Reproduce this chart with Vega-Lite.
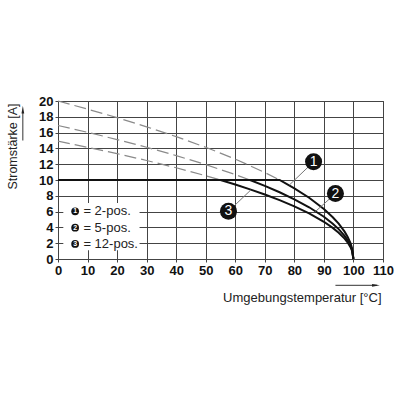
{
  "$schema": "https://vega.github.io/schema/vega-lite/v6.json",
  "autosize": {"type": "none"},
  "padding": {"left": 58, "top": 101, "right": 17, "bottom": 141},
  "width": 325,
  "height": 158,
  "background": "white",
  "config": {
    "view": {"stroke": "#333", "strokeWidth": 1},
    "font": "Liberation Sans",
    "axis": {
      "grid": true, "gridColor": "#444", "gridWidth": 1, "gridOpacity": 1,
      "domain": false, "ticks": true, "tickSize": 3, "tickColor": "#444",
      "labelOverlap": false, "labelFlush": false, "labelBound": false,
      "labelFont": "Liberation Sans", "labelFontSize": 13, "labelFontWeight": "bold", "labelColor": "#111",
      "titleFont": "Liberation Sans", "titleFontWeight": "normal", "titleColor": "#222"
    }
  },
  "datasets": {
    "curves": [
      {"s": "1", "part": "dash", "T": 0, "I": 20}, {"s": "1", "part": "dash", "T": 10, "I": 18.97}, {"s": "1", "part": "dash", "T": 20, "I": 17.89}, {"s": "1", "part": "dash", "T": 30, "I": 16.73}, {"s": "1", "part": "dash", "T": 40, "I": 15.49}, {"s": "1", "part": "dash", "T": 50, "I": 14.14}, {"s": "1", "part": "dash", "T": 60, "I": 12.65}, {"s": "1", "part": "dash", "T": 70, "I": 10.95}, {"s": "1", "part": "dash", "T": 75, "I": 10},
      {"s": "2", "part": "dash", "T": 0, "I": 16.9}, {"s": "2", "part": "dash", "T": 10, "I": 16.04}, {"s": "2", "part": "dash", "T": 20, "I": 15.12}, {"s": "2", "part": "dash", "T": 30, "I": 14.14}, {"s": "2", "part": "dash", "T": 40, "I": 13.09}, {"s": "2", "part": "dash", "T": 50, "I": 11.95}, {"s": "2", "part": "dash", "T": 60, "I": 10.69}, {"s": "2", "part": "dash", "T": 65, "I": 10},
      {"s": "3", "part": "dash", "T": 0, "I": 14.91}, {"s": "3", "part": "dash", "T": 10, "I": 14.14}, {"s": "3", "part": "dash", "T": 20, "I": 13.33}, {"s": "3", "part": "dash", "T": 30, "I": 12.47}, {"s": "3", "part": "dash", "T": 40, "I": 11.55}, {"s": "3", "part": "dash", "T": 50, "I": 10.54}, {"s": "3", "part": "dash", "T": 55, "I": 10},
      {"s": "1", "part": "solid", "T": 0, "I": 10}, {"s": "1", "part": "solid", "T": 75, "I": 10}, {"s": "1", "part": "solid", "T": 80, "I": 8.94}, {"s": "1", "part": "solid", "T": 85, "I": 7.75}, {"s": "1", "part": "solid", "T": 90, "I": 6.32}, {"s": "1", "part": "solid", "T": 93, "I": 5.29}, {"s": "1", "part": "solid", "T": 95, "I": 4.47}, {"s": "1", "part": "solid", "T": 97, "I": 3.46}, {"s": "1", "part": "solid", "T": 98, "I": 2.83}, {"s": "1", "part": "solid", "T": 99, "I": 2.0}, {"s": "1", "part": "solid", "T": 99.5, "I": 1.41}, {"s": "1", "part": "solid", "T": 100, "I": 0},
      {"s": "2", "part": "solid", "T": 0, "I": 10}, {"s": "2", "part": "solid", "T": 65, "I": 10}, {"s": "2", "part": "solid", "T": 70, "I": 9.26}, {"s": "2", "part": "solid", "T": 75, "I": 8.45}, {"s": "2", "part": "solid", "T": 80, "I": 7.56}, {"s": "2", "part": "solid", "T": 85, "I": 6.55}, {"s": "2", "part": "solid", "T": 90, "I": 5.35}, {"s": "2", "part": "solid", "T": 93, "I": 4.47}, {"s": "2", "part": "solid", "T": 95, "I": 3.78}, {"s": "2", "part": "solid", "T": 97, "I": 2.93}, {"s": "2", "part": "solid", "T": 98, "I": 2.39}, {"s": "2", "part": "solid", "T": 99, "I": 1.69}, {"s": "2", "part": "solid", "T": 99.5, "I": 1.2}, {"s": "2", "part": "solid", "T": 100, "I": 0},
      {"s": "3", "part": "solid", "T": 0, "I": 10}, {"s": "3", "part": "solid", "T": 55, "I": 10}, {"s": "3", "part": "solid", "T": 60, "I": 9.43}, {"s": "3", "part": "solid", "T": 65, "I": 8.82}, {"s": "3", "part": "solid", "T": 70, "I": 8.16}, {"s": "3", "part": "solid", "T": 75, "I": 7.45}, {"s": "3", "part": "solid", "T": 80, "I": 6.67}, {"s": "3", "part": "solid", "T": 85, "I": 5.77}, {"s": "3", "part": "solid", "T": 90, "I": 4.71}, {"s": "3", "part": "solid", "T": 93, "I": 3.94}, {"s": "3", "part": "solid", "T": 95, "I": 3.33}, {"s": "3", "part": "solid", "T": 97, "I": 2.58}, {"s": "3", "part": "solid", "T": 98, "I": 2.11}, {"s": "3", "part": "solid", "T": 99, "I": 1.49}, {"s": "3", "part": "solid", "T": 99.5, "I": 1.05}, {"s": "3", "part": "solid", "T": 100, "I": 0}
    ],
    "callouts": [
      {"label": "1", "T": 86.5, "I": 12.3, "T2": 78.4, "I2": 9.4},
      {"label": "2", "T": 93.9, "I": 8.28, "T2": 87.1, "I2": 6.0},
      {"label": "3", "T": 57.7, "I": 6.04, "T2": 65.3, "I2": 8.75}
    ],
    "legend": [
      {"label": "1", "text": "= 2-pos.", "T": 5.8, "TX": 8.6, "I": 6.04},
      {"label": "2", "text": "= 5-pos.", "T": 5.8, "TX": 8.6, "I": 3.97},
      {"label": "3", "text": "= 12-pos.", "T": 5.8, "TX": 8.6, "I": 1.9}
    ],
    "legendbox": [{"T": 1.8, "T2": 27.6, "I": 1.1, "I2": 7.1}],
    "arrows": [
      {"dir": "x", "T": 93.9, "I": -3.33, "T2": 108, "I2": -3.33},
      {"dir": "y", "T": -11.9, "I": 15.0, "T2": -11.9, "I2": 18.6}
    ],
    "heads": [
      {"dir": "x", "T": 107.6, "I": -3.33},
      {"dir": "y", "T": -11.9, "I": 18.9}
    ]
  },
  "encoding": {
    "x": {"field": "T", "type": "quantitative", "scale": {"domain": [0, 110], "nice": false, "zero": false},
          "axis": {"values": [0, 10, 20, 30, 40, 50, 60, 70, 80, 90, 100, 110], "labelPadding": 2,
                   "title": "Umgebungstemperatur [°C]", "titleFontSize": 13, "titleAlign": "right", "titleBaseline": "middle", "titleX": 323, "titleY": 38}},
    "y": {"field": "I", "type": "quantitative", "scale": {"domain": [0, 20], "nice": false, "zero": false},
          "axis": {"values": [0, 2, 4, 6, 8, 10, 12, 14, 16, 18, 20], "labelPadding": 2,
                   "title": "Stromstärke [A]", "titleFontSize": 12.5, "titleAngle": 270, "titleAlign": "center", "titleBaseline": "middle", "titleX": -46, "titleY": 45}}
  },
  "layer": [
    {
      "data": {"name": "legendbox"},
      "mark": {"type": "rect", "fill": "white", "stroke": null},
      "encoding": {"x2": {"field": "T2"}, "y2": {"field": "I2"}}
    },
    {
      "data": {"name": "curves"},
      "transform": [{"filter": "datum.part === 'dash'"}],
      "mark": {"type": "line", "color": "#8a8a8a", "strokeWidth": 1.2, "strokeDash": [12, 5]},
      "encoding": {"detail": {"field": "s"}}
    },
    {
      "data": {"name": "curves"},
      "transform": [{"filter": "datum.part === 'solid'"}],
      "mark": {"type": "line", "color": "#111", "strokeWidth": 2},
      "encoding": {"detail": {"field": "s"}}
    },
    {
      "data": {"name": "callouts"},
      "mark": {"type": "rule", "color": "#777", "strokeWidth": 1},
      "encoding": {"x2": {"field": "T2"}, "y2": {"field": "I2"}}
    },
    {
      "data": {"name": "callouts"},
      "mark": {"type": "point", "shape": "circle", "filled": true, "color": "#111", "size": 290, "opacity": 1},
      "encoding": {}
    },
    {
      "data": {"name": "callouts"},
      "mark": {"type": "text", "color": "white", "fontSize": 14, "align": "center", "baseline": "middle", "font": "Liberation Sans"},
      "encoding": {"text": {"field": "label"}}
    },
    {
      "data": {"name": "legend"},
      "mark": {"type": "point", "shape": "circle", "filled": true, "color": "#111", "size": 60, "opacity": 1},
      "encoding": {}
    },
    {
      "data": {"name": "legend"},
      "mark": {"type": "text", "color": "white", "fontSize": 7, "fontWeight": "bold", "align": "center", "baseline": "middle", "font": "Liberation Sans"},
      "encoding": {"text": {"field": "label"}}
    },
    {
      "data": {"name": "legend"},
      "mark": {"type": "text", "color": "#222", "fontSize": 13, "align": "left", "baseline": "middle", "font": "Liberation Sans"},
      "encoding": {"x": {"field": "TX", "type": "quantitative"}, "text": {"field": "text"}}
    },
    {
      "data": {"name": "arrows"},
      "mark": {"type": "rule", "color": "#333", "strokeWidth": 1, "clip": false},
      "encoding": {"x2": {"field": "T2"}, "y2": {"field": "I2"}}
    },
    {
      "data": {"name": "heads"},
      "mark": {"type": "point", "filled": true, "color": "#222", "opacity": 1, "size": 60, "clip": false},
      "encoding": {
        "shape": {"field": "dir", "type": "nominal", "scale": {"domain": ["x", "y"], "range": ["M-1,-0.35L1,0L-1,0.35Z", "M-0.35,1L0,-1L0.35,1Z"]}, "legend": null}
      }
    }
  ]
}
